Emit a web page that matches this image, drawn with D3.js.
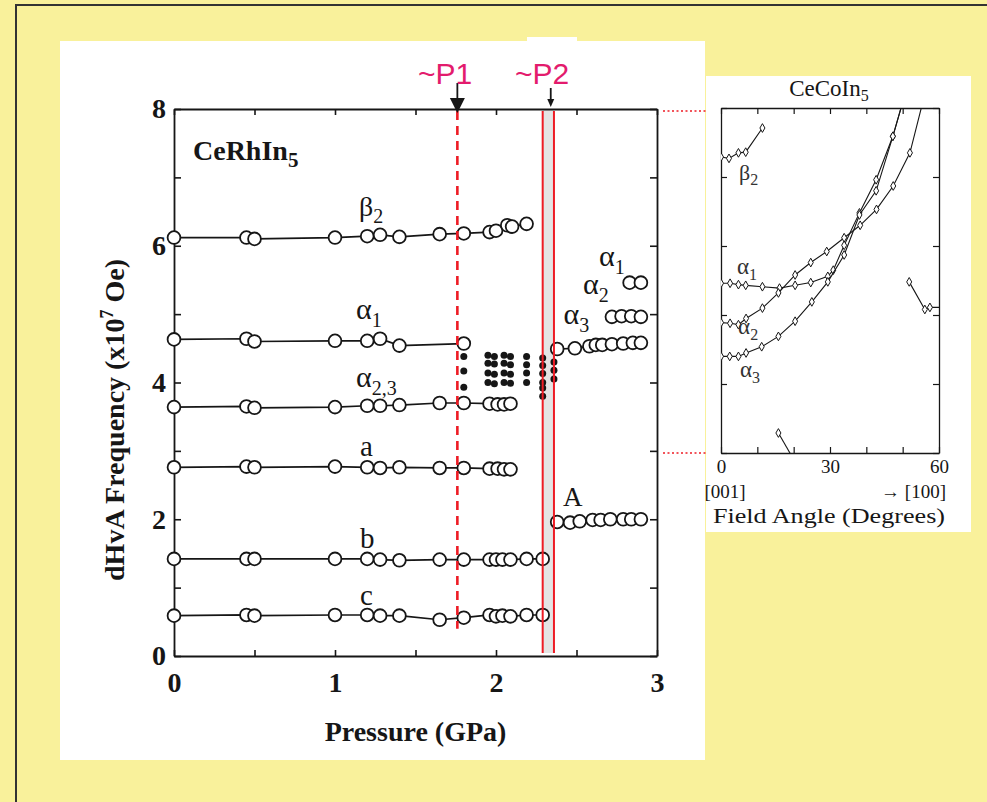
<!DOCTYPE html>
<html><head><meta charset="utf-8">
<script src="https://cdn.jsdelivr.net/npm/d3@7"></script>
<style>body{margin:0;background:#f9f19b;} svg{display:block}</style>
</head><body><svg id="c" width="987" height="802"></svg>
<script>
// ---------------- DATA: main panel (CeRhIn5, pressure in GPa, frequency in 10^7 Oe) ----------------
const pBeta2 = [0,0.45,0.5,1.0,1.2,1.28,1.4,1.65,1.8,1.96,2.0,2.07,2.1,2.19];
const fBeta2 = [6.12,6.12,6.1,6.12,6.14,6.16,6.13,6.17,6.18,6.2,6.22,6.3,6.28,6.32];
const pAlpha1 = [0,0.45,0.5,1.0,1.2,1.28,1.4,1.8];
const fAlpha1 = [4.63,4.64,4.6,4.61,4.61,4.64,4.54,4.57];
const pAlpha23 = [0,0.45,0.5,1.0,1.2,1.28,1.4,1.65,1.8,1.96,2.01,2.05,2.09];
const fAlpha23 = [3.64,3.65,3.63,3.64,3.66,3.66,3.67,3.7,3.7,3.69,3.68,3.68,3.69];
const pBranchA = [0,0.45,0.5,1.0,1.2,1.28,1.4,1.65,1.8,1.96,2.01,2.05,2.09];
const fBranchA = [2.76,2.77,2.76,2.77,2.76,2.75,2.76,2.75,2.75,2.74,2.74,2.73,2.73];
const pBranchB = [0,0.45,0.5,1.0,1.2,1.28,1.4,1.65,1.8,1.96,2.0,2.04,2.09,2.19,2.29];
const fBranchB = [1.42,1.42,1.42,1.42,1.42,1.41,1.4,1.41,1.41,1.41,1.41,1.41,1.41,1.42,1.42];
const pBranchC = [0,0.45,0.5,1.0,1.2,1.28,1.4,1.65,1.8,1.96,2.0,2.04,2.09,2.19,2.29];
const fBranchC = [0.59,0.6,0.59,0.6,0.6,0.59,0.59,0.53,0.56,0.6,0.58,0.59,0.58,0.6,0.6];
const pAlpha3H = [2.38,2.49,2.58,2.62,2.66,2.72,2.79,2.85,2.9];
const fAlpha3H = [4.49,4.5,4.53,4.55,4.55,4.56,4.57,4.58,4.58];
const pAlpha2H = [2.72,2.78,2.84,2.9];
const fAlpha2H = [4.96,4.97,4.97,4.96];
const pAlpha1H = [2.83,2.9];
const fAlpha1H = [5.46,5.46];
const pBigA = [2.38,2.46,2.52,2.6,2.65,2.71,2.79,2.84,2.9];
const fBigA = [1.96,1.95,1.97,1.99,1.99,2.0,2.0,2.0,2.0];
// filled dots between P1 and P2
const pDots = [1.8,1.8,1.8, 1.95,1.95,1.95,1.95, 1.99,1.99,1.99,1.99, 2.05,2.05,2.05,2.05, 2.09,2.09,2.09,2.09, 2.19,2.19,2.19,2.19, 2.29,2.29,2.29,2.29,2.29,2.29, 2.36,2.36,2.36];
const fDots = [4.38,4.17,3.93, 4.40,4.28,4.14,4.0, 4.38,4.27,4.12,3.98, 4.40,4.28,4.14,4.0, 4.38,4.26,4.12,3.99, 4.38,4.26,4.14,4.0, 4.36,4.25,4.13,4.0,3.92,3.80, 4.30,4.18,4.05];
const pressP1 = 1.76, pressP2a = 2.29, pressP2b = 2.36, pressP2arrow = 2.34;
const xTicks = [0,0.5,1,1.5,2,2.5,3];
const xTickLabels = [0,1,2,3];
const yTicks = [0,1,2,3,4,5,6,7,8];
const yTickLabels = [0,2,4,6,8];

// ---------------- DATA: inset (CeCoIn5, field angle in degrees) ----------------
const angBeta2 = [0,2.2,4.8,6.8,11.4];
const frqBeta2 = [7.29,7.27,7.35,7.36,7.71];
const angAlpha1 = [0,2.5,4.8,6.8,11.4,16.1,20.4,24.7,29.4,30.9,33.9,38.1,42.7,47.3,50.2];
const frqAlpha1 = [5.46,5.46,5.44,5.43,5.41,5.39,5.43,5.47,5.56,5.65,6.01,6.48,6.96,7.59,8.12];
const angAlpha2 = [0,2.5,4.8,6.9,11.4,15.8,20.4,24.7,29.1,33.9,38.3,42.8,47.4,52.0,55.7];
const frqAlpha2 = [4.89,4.88,4.86,4.95,5.10,5.32,5.58,5.76,5.92,6.12,6.30,6.53,6.87,7.35,8.12];
const angAlpha3 = [0,2.4,4.8,6.9,11.2,15.8,20.4,25.0,29.4,33.9,38.1,42.7,47.3,50.2];
const frqAlpha3 = [4.40,4.40,4.40,4.45,4.54,4.69,4.91,5.19,5.48,5.87,6.45,6.80,7.59,8.12];
const angLow = [15.8,19.3];
const frqLow = [3.29,2.97];
const angRight = [51.8,56.1,57.5,60];
const frqRight = [5.48,5.08,5.11,5.11];
const angTicks = [0,10,20,30,40,50,60];
const angTickLabels = [0,30,60];
const frqTicks = [3,4,5,6,7,8];

// ---------------- DRAWING ----------------
const svg = d3.select('#c');
const SERIF = "'Liberation Serif','Times New Roman',serif";
const SANS = "'Liberation Sans',Arial,sans-serif";
const INK = '#161616';
const RED = '#ee1c25';

svg.append('rect').attr('width',987).attr('height',802).attr('fill','#f9f19b');
svg.append('rect').attr('x',16).attr('y',5).attr('width',1000).attr('height',1000)
  .attr('fill','none').attr('stroke','#333').attr('stroke-width',2);
svg.append('rect').attr('x',60).attr('y',41).attr('width',645).attr('height',719).attr('fill','#fff');
svg.append('rect').attr('x',527).attr('y',37).attr('width',50).attr('height',6).attr('fill','#fff');
svg.append('rect').attr('x',706).attr('y',76).attr('width',265).attr('height',456).attr('fill','#fff');

// main scales
const x = d3.scaleLinear().domain([0,3]).range([174,657]);
const y = d3.scaleLinear().domain([0,8]).range([656,109]);

// P2 gray band
svg.append('rect').attr('x',x(pressP2a)).attr('y',y(8)).attr('width',x(pressP2b)-x(pressP2a))
  .attr('height',y(0)-y(8)-3).attr('fill','#e4e4e4');

function styleAxis(g, size, weight){
  g.attr('font-family',SERIF).attr('font-size',size).attr('font-weight',weight);
  g.selectAll('path.domain').attr('stroke',INK).attr('stroke-width',1.8);
  g.selectAll('.tick line').attr('stroke',INK).attr('stroke-width',1.6);
  g.selectAll('.tick text').attr('fill',INK);
}
const fmtX = d => xTickLabels.includes(d) ? d : '';
const fmtY = d => yTickLabels.includes(d) ? d : '';
svg.append('g').attr('transform',`translate(0,${y(0)})`)
  .call(d3.axisBottom(x).tickValues(xTicks).tickSize(-6).tickSizeOuter(0).tickPadding(16).tickFormat(fmtX))
  .call(g=>styleAxis(g,28,'bold'));
svg.append('g').attr('transform',`translate(0,${y(8)})`)
  .call(d3.axisTop(x).tickValues(xTicks).tickSize(-6).tickSizeOuter(0).tickFormat(''))
  .call(g=>styleAxis(g,28,'bold'));
svg.append('g').attr('transform',`translate(${x(0)},0)`)
  .call(d3.axisLeft(y).tickValues(yTicks).tickSize(-7).tickSizeOuter(0).tickPadding(8).tickFormat(fmtY))
  .call(g=>styleAxis(g,28,'bold'));
svg.append('g').attr('transform',`translate(${x(3)},0)`)
  .call(d3.axisRight(y).tickValues(yTicks).tickSize(-7).tickSizeOuter(0).tickFormat(''))
  .call(g=>styleAxis(g,28,'bold'));

// series
const mainSeries = [
  {p:pBeta2,f:fBeta2,line:true},{p:pAlpha1,f:fAlpha1,line:true},{p:pAlpha23,f:fAlpha23,line:true},
  {p:pBranchA,f:fBranchA,line:true},{p:pBranchB,f:fBranchB,line:true},{p:pBranchC,f:fBranchC,line:true},
  {p:pAlpha3H,f:fAlpha3H,line:true},{p:pAlpha2H,f:fAlpha2H,line:false},{p:pAlpha1H,f:fAlpha1H,line:false},
  {p:pBigA,f:fBigA,line:true}
];
const line = d3.line().x(d=>x(d[0])).y(d=>y(d[1]));
const gl = svg.append('g');
mainSeries.forEach(s=>{
  if(!s.line) return;
  gl.append('path').datum(s.p.map((p,i)=>[p,s.f[i]])).attr('d',line)
    .attr('fill','none').attr('stroke',INK).attr('stroke-width',1.7);
});
svg.append('g').selectAll('circle').data(pDots.map((p,i)=>[p,fDots[i]])).join('circle')
  .attr('cx',d=>x(d[0])).attr('cy',d=>y(d[1])).attr('r',3.5).attr('fill',INK);
const gc = svg.append('g');
mainSeries.forEach(s=>{
  gc.selectAll(null).data(s.p.map((p,i)=>[p,s.f[i]])).join('circle')
    .attr('cx',d=>x(d[0])).attr('cy',d=>y(d[1])).attr('r',6.4)
    .attr('fill','#fff').attr('stroke',INK).attr('stroke-width',1.8);
});

// red markers of P1 / P2
svg.append('line').attr('x1',x(pressP1)).attr('x2',x(pressP1)).attr('y1',y(8)+2).attr('y2',y(0.4))
  .attr('stroke',RED).attr('stroke-width',2.6).attr('stroke-dasharray','9,6');
[pressP2a,pressP2b].forEach(p=>{
  svg.append('line').attr('x1',x(p)).attr('x2',x(p)).attr('y1',y(8)+2).attr('y2',y(0)-3)
    .attr('stroke',RED).attr('stroke-width',2);
});
// arrows
function arrow(px, top, tip, hw, hl){
  const X = x(px);
  svg.append('line').attr('x1',X).attr('x2',X).attr('y1',top).attr('y2',tip-hl+1).attr('stroke',INK).attr('stroke-width',1.8);
  svg.append('path').attr('d',`M${X-hw},${tip-hl} L${X+hw},${tip-hl} L${X},${tip} Z`).attr('fill',INK);
}
arrow(pressP1, 83, y(8)+4, 7.5, 15);
arrow(pressP2arrow, 88, y(8)-2, 3.5, 8);

// P labels
svg.append('text').attr('x',418).attr('y',84).attr('font-family',SANS).attr('font-size',30).attr('fill','#e31b6d').text('~P1');
svg.append('text').attr('x',515).attr('y',84).attr('font-family',SANS).attr('font-size',30).attr('fill','#e31b6d').text('~P2');

// text helpers
function lab(px, py, main, sub, size, subSize, dy, weight){
  const t = svg.append('text').attr('x',px).attr('y',py).attr('font-family',SERIF)
    .attr('font-size',size).attr('fill',INK).attr('font-weight',weight||'normal');
  t.append('tspan').text(main);
  if(sub) t.append('tspan').attr('font-size',subSize).attr('dy',dy).text(sub);
  return t;
}
lab(x(0.118), y(7.26), 'CeRhIn', '5', 28, 21, 7, 'bold');
lab(x(1.149), y(6.44), 'β', '2', 28, 20, 7);
lab(x(1.13), y(4.93), 'α', '1', 30, 20, 8);
lab(x(1.13), y(3.93), 'α', '2,3', 30, 20, 8);
lab(x(1.155), y(2.93), 'a', null, 29);
lab(x(1.155), y(1.58), 'b', null, 29);
lab(x(1.155), y(0.74), 'c', null, 29);
lab(x(2.416), y(2.20), 'A', null, 27);
lab(x(2.64), y(5.71), 'α', '1', 30, 20, 8);
lab(x(2.54), y(5.30), 'α', '2', 30, 20, 8);
lab(x(2.42), y(4.86), 'α', '3', 30, 20, 8);

// axis titles
svg.append('text').attr('x',(x(0)+x(3))/2).attr('y',741).attr('text-anchor','middle')
  .attr('font-family',SERIF).attr('font-size',28).attr('font-weight','bold').attr('fill',INK).text('Pressure (GPa)');
const yl = svg.append('text').attr('transform','translate(124,420) rotate(-90)').attr('text-anchor','middle')
  .attr('font-family',SERIF).attr('font-size',28).attr('font-weight','bold').attr('fill',INK);
yl.append('tspan').text('dHvA Frequency (x10');
yl.append('tspan').attr('font-size',18).attr('dy',-11).text('7');
yl.append('tspan').attr('dy',11).text(' Oe)');

// red dotted connectors
[8,3].forEach(v=>{
  const Y = v===8 ? 111 : 453;
  svg.append('line').attr('x1',663).attr('x2',706).attr('y1',Y).attr('y2',Y)
    .attr('stroke',RED).attr('stroke-width',1.6).attr('stroke-dasharray','2,2.5');
});

// ---------------- INSET ----------------
const xi = d3.scaleLinear().domain([0,60]).range([721,939]);
const yi = d3.scaleLinear().domain([3,8]).range([453,108]);
svg.append('defs').append('clipPath').attr('id','ic').append('rect')
  .attr('x',xi(0)).attr('y',yi(8)).attr('width',xi(60)-xi(0)).attr('height',yi(3)-yi(8));
const fmtA = d => angTickLabels.includes(d) ? d : '';
function styleInset(g){
  g.attr('font-family',SERIF).attr('font-size',19);
  g.selectAll('path.domain').attr('stroke',INK).attr('stroke-width',1.3);
  g.selectAll('.tick line').attr('stroke',INK).attr('stroke-width',1.2);
  g.selectAll('.tick text').attr('fill',INK);
}
svg.append('g').attr('transform',`translate(0,${yi(3)})`)
  .call(d3.axisBottom(xi).tickValues(angTicks).tickSize(-6).tickSizeOuter(0).tickPadding(7).tickFormat(fmtA)).call(styleInset);
svg.append('g').attr('transform',`translate(0,${yi(8)})`)
  .call(d3.axisTop(xi).tickValues(angTicks).tickSize(-6).tickSizeOuter(0).tickFormat('')).call(styleInset);
svg.append('g').attr('transform',`translate(${xi(0)},0)`)
  .call(d3.axisLeft(yi).tickValues(frqTicks).tickSize(-6).tickSizeOuter(0).tickFormat('')).call(styleInset);
svg.append('g').attr('transform',`translate(${xi(60)},0)`)
  .call(d3.axisRight(yi).tickValues(frqTicks).tickSize(-6).tickSizeOuter(0).tickFormat('')).call(styleInset);

const insetSeries = [[angBeta2,frqBeta2],[angAlpha1,frqAlpha1],[angAlpha2,frqAlpha2],[angAlpha3,frqAlpha3],[angLow,frqLow],[angRight,frqRight]];
const li = d3.line().x(d=>xi(d[0])).y(d=>yi(d[1]));
const gi = svg.append('g').attr('clip-path','url(#ic)');
const sym = d3.symbol().type(d3.symbolDiamond).size(22);
insetSeries.forEach(([a,f])=>{
  const pts = a.map((v,i)=>[v,f[i]]);
  gi.append('path').datum(pts).attr('d',li).attr('fill','none').attr('stroke',INK).attr('stroke-width',1.1);
  gi.selectAll(null).data(pts.filter(d=>d[0]<60 && d[1]>3 && d[1]<8)).join('path')
    .attr('d',sym).attr('transform',d=>`translate(${xi(d[0])},${yi(d[1])})`)
    .attr('fill','#fff').attr('stroke',INK).attr('stroke-width',1);
});
function ilab(a, f, main, sub, size, subSize, dy){
  const t = svg.append('text').attr('x',xi(a)).attr('y',yi(f)).attr('font-family',SERIF).attr('font-size',size).attr('fill','#333');
  t.append('tspan').text(main);
  if(sub) t.append('tspan').attr('font-size',subSize).attr('dy',dy).text(sub);
}
ilab(4.95, 6.96, 'β', '2', 22, 16, 5);
ilab(4.4, 5.6, 'α', '1', 23, 16, 6);
ilab(4.7, 4.73, 'α', '2', 23, 16, 6);
ilab(5.2, 4.1, 'α', '3', 23, 16, 6);

const tt = svg.append('text').attr('x',829).attr('y',96).attr('text-anchor','middle').attr('font-family',SERIF).attr('font-size',23).attr('fill',INK);
tt.append('tspan').text('CeCoIn');
tt.append('tspan').attr('font-size',16).attr('dy',5).text('5');
svg.append('text').attr('x',725).attr('y',498).attr('text-anchor','middle').attr('font-family',SERIF).attr('font-size',19).attr('fill',INK).text('[001]');
svg.append('text').attr('x',946).attr('y',498).attr('text-anchor','end').attr('font-family',SERIF).attr('font-size',19).attr('fill',INK).text('→ [100]');
svg.append('text').attr('x',829).attr('y',523).attr('text-anchor','middle').attr('font-family',SERIF).attr('font-size',21)
  .attr('textLength',232).attr('lengthAdjust','spacingAndGlyphs').attr('fill',INK).text('Field Angle (Degrees)');
</script></body></html>
